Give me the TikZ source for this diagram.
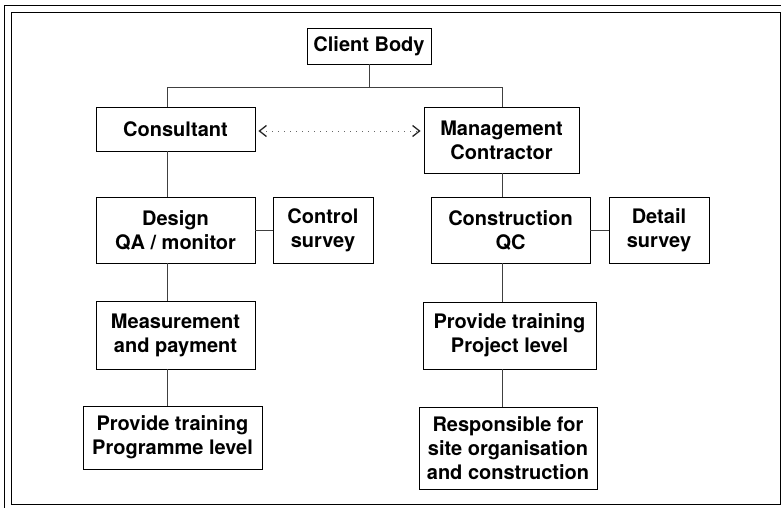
\documentclass[tikz,border=0pt]{standalone}
\usepackage{fontspec}
\setmainfont{TeX Gyre Heros}
\usetikzlibrary{arrows.meta}
\begin{document}
\begin{tikzpicture}[x=1pt,y=-1pt,
    box/.style={draw, line width=0.8pt, align=center, inner sep=0pt,
      font=\fontsize{20}{24}\selectfont\bfseries},
    link/.style={line width=0.7pt, draw=black!75}]
  \useasboundingbox (0,0) rectangle (781,508);
  % double frame
  \draw[line width=0.9pt] (4,5) rectangle (795,520);
  \draw[line width=0.9pt] (11,12) rectangle (780,504);
  % boxes
  \node[box, minimum width=124pt, minimum height=36pt] (client) at (369,46) {Client Body};
  \node[box, minimum width=159pt, minimum height=44pt] (cons) at (175.5,129) {Consultant};
  \node[box, minimum width=155pt, minimum height=66pt] (mgmt) at (501.5,140) {Management\\Contractor};
  \node[box, minimum width=159pt, minimum height=66pt] (design) at (175.5,230) {Design\\QA / monitor};
  \node[box, minimum width=100pt, minimum height=66pt] (control) at (323,230) {Control\\survey};
  \node[box, minimum width=159pt, minimum height=66pt] (constr) at (510.5,230) {Construction\\QC};
  \node[box, minimum width=100pt, minimum height=66pt] (detail) at (659,230) {Detail\\survey};
  \node[box, minimum width=159pt, minimum height=68pt] (meas) at (175.5,335) {Measurement\\and payment};
  \node[box, minimum width=173pt, minimum height=67pt] (trainR) at (509.5,335.5) {Provide training\\Project level};
  \node[box, minimum width=179pt, minimum height=63pt] (trainL) at (172.5,437.5) {Provide training\\Programme level};
  \node[box, minimum width=178pt, minimum height=82pt] (resp) at (508,448) {Responsible for\\site organisation\\and construction};
  % connectors
  \coordinate (spineL) at (167,87);
  \coordinate (spineR) at (502,87);
  \draw[link] (client.south) -- (client.south |- spineL);
  \draw[link] (cons.north -| spineL) -- (spineL) -- (spineR) -- (mgmt.north -| spineR);
  \draw[link] (cons.south -| spineL) -- (design.north -| spineL);
  \draw[link] (design.south -| spineL) -- (meas.north -| spineL);
  \draw[link] (meas.south -| spineL) -- (trainL.north -| spineL);
  \draw[link] (mgmt.south -| spineR) -- (constr.north -| spineR);
  \draw[link] (constr.south -| spineR) -- (trainR.north -| spineR);
  \draw[link] (trainR.south -| spineR) -- (resp.north -| spineR);
  \draw[link] (design.east) -- (control.west);
  \draw[link] (constr.east) -- (detail.west);
  \draw[{Straight Barb[length=7pt,width=11pt,line width=1.3pt,black!85]}-{Straight Barb[length=7pt,width=11pt,line width=1.3pt,black!85]},
    line width=1pt, draw=black!60, dash pattern=on 1pt off 5pt]
    ([xshift=3pt,yshift=-2pt]cons.east) -- ([xshift=-3pt,yshift=-2pt]cons.east -| mgmt.west);
\end{tikzpicture}
\end{document}
